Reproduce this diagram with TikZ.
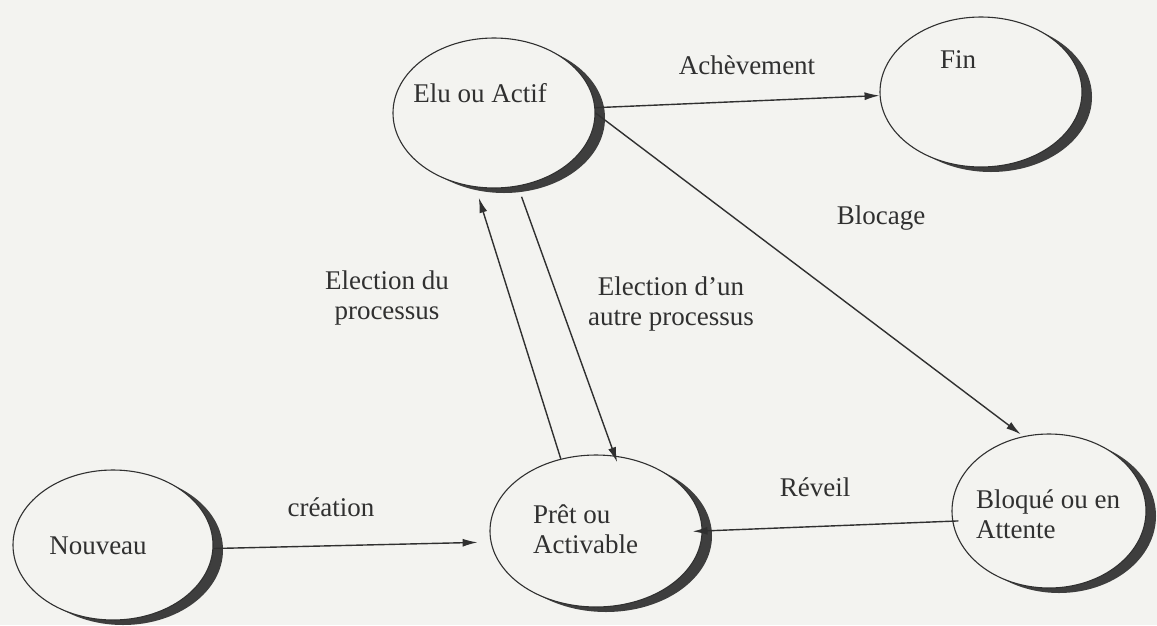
\documentclass[tikz,border=0pt]{standalone}
\usepackage{fontspec}
\setmainfont{Liberation Serif}
\usetikzlibrary{arrows.meta,shapes.geometric,shadows}
\definecolor{paper}{RGB}{243,243,240}
\definecolor{ink}{RGB}{48,48,48}
\definecolor{shade}{RGB}{62,62,62}
\tikzset{
  state/.style={ellipse, draw=ink, line width=1.1pt, fill=paper, inner sep=0pt,
    drop shadow={shadow xshift=10pt, shadow yshift=-5pt, fill=shade, opacity=1}},
  lbl/.style={text=ink, inner sep=0pt, font=\fontsize{27}{30}\selectfont},
  flow/.style={draw=ink, line width=1.4pt, -{Latex[length=15pt,width=8pt]}}
}
\begin{document}
\begin{tikzpicture}[x=1pt, y=-1pt]
  \fill[paper] (0,0) rectangle (1157,625);
  \useasboundingbox (0,0) rectangle (1157,625);

  % states
  \node[state, minimum width=202pt, minimum height=150pt] (elu) at (494,113) {};
  \node[state, minimum width=202pt, minimum height=150pt] (fin) at (981,92) {};
  \node[state, minimum width=200pt, minimum height=150pt] (nouveau) at (113,545) {};
  \node[state, minimum width=212pt, minimum height=152pt] (pret) at (596,531) {};
  \node[state, minimum width=194pt, minimum height=154pt] (bloque) at (1049,511) {};

  % state names
  \node[lbl] (tElu) at (480,93) {Elu ou Actif};
  \node[lbl] (tFin) at (958,60) {Fin};
  \node[lbl] (tNouveau) at (98,546) {Nouveau};
  \node[lbl, align=left, anchor=west] (tPret) at (533,529) {Prêt ou\\Activable};
  \node[lbl, align=left, anchor=west] (tBloque) at (976,514) {Bloqué ou en\\Attente};

  % transitions
  \draw[flow] (elu.3) -- (fin.182);
  \draw[flow, shorten >=3pt] (elu.0) -- (bloque.109);
  \draw[flow, shorten >=11pt] (pret.116) -- (elu.-104.7);
  \draw[flow, shorten <=11pt, shorten >=-7pt] (elu.-72.8) -- (pret.76.8);
  \draw[flow, shorten >=13pt] (nouveau.-2) -- (pret.186);
  \draw[flow, shorten <=-6pt, shorten >=-10pt] (bloque.186.5) -- (pret.0);

  % transition labels
  \node[lbl] (lAch) at (747,65) {Achèvement};
  \node[lbl] (lBloc) at (881,218) {Blocage};
  \node[lbl, align=center] (lElu) at (387,298) {Election du\\processus};
  \node[lbl, align=center] (lAutre) at (671,304) {Election d’un\\autre processus};
  \node[lbl] (lCrea) at (331,507) {création};
  \node[lbl] (lRev) at (815,487) {Réveil};
\end{tikzpicture}
\end{document}
